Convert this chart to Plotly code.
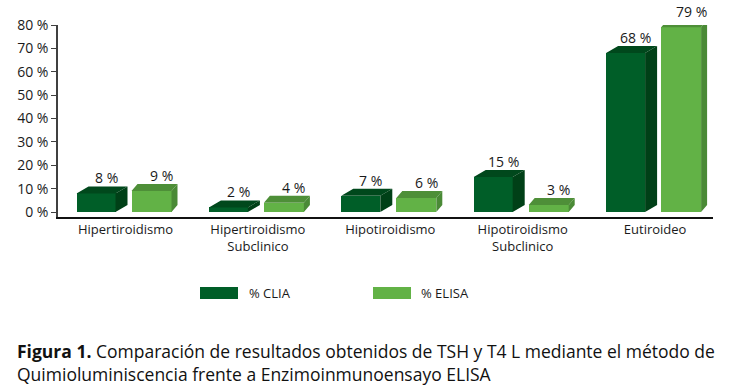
import plotly.graph_objects as go

# ---- data ----
categories = ["Hipertiroidismo", "Hipertiroidismo<br>Subclinico", "Hipotiroidismo",
              "Hipotiroidismo<br>Subclinico", "Eutiroideo"]
clia = [8, 2, 7, 15, 68]
elisa = [9, 4, 6, 3, 79]
y_ticks = [0, 10, 20, 30, 40, 50, 60, 70, 80]
y_ticktext = [f"{v} %" for v in y_ticks]
series_names = ["% CLIA", "% ELISA"]

# ---- style / geometry ----
W, H = 731, 390
L, R, T, B = 58, 18, 25, 173
plot_w = W - L - R
plot_h = H - T - B
cat_px = 132.4               # px per category
first_center_px = 125.5      # px of first category center
x0 = (L - first_center_px) / cat_px
x1 = x0 + plot_w / cat_px
y_min, y_max = -2.1, 80
px_per_unit = plot_h / (y_max - y_min)

def pxw(p):  # px -> x data units
    return p / cat_px

def pyh(p):  # px -> y data units
    return p / px_per_unit

def paper_x(px):
    return (px - L) / plot_w

def paper_y(py):
    return (H - B - py) / plot_h

def data_to_paper_y(v):
    return (v - y_min) / (y_max - y_min)

font_fam = "Open Sans"
txt_col = "#1a1a1a"
axis_col = "#404040"

styles = [
    dict(front="#005E28", top="#00481C", side="#004017", off=-29.5, width=39, depth=12),
    dict(front="#62B246", top="#4E8F38", side="#4A8A36", off=26, width=40, depth=6),
]
rise = pyh(7)

fig = go.Figure()

for s, vals, name in zip(styles, [clia, elisa], series_names):
    xs = [i + pxw(s["off"]) for i in range(len(vals))]
    w = pxw(s["width"])
    d = pxw(s["depth"])
    fig.add_trace(go.Bar(x=xs, y=vals, width=w, marker=dict(color=s["front"], line=dict(width=0)),
                         name=name, showlegend=False, hoverinfo="skip"))
    topx, topy, sidex, sidey = [], [], [], []
    for xc, v in zip(xs, vals):
        a, b = xc - w / 2, xc + w / 2
        topx += [a, a + d, b + d, b, a, None]
        topy += [v, v + rise, v + rise, v, v, None]
        sidex += [b, b + d, b + d, b, b, None]
        sidey += [0, rise, v + rise, v, 0, None]
    fig.add_trace(go.Scatter(x=topx, y=topy, fill="toself", fillcolor=s["top"], mode="lines",
                             line=dict(width=0, color=s["top"]), showlegend=False, hoverinfo="skip",
                             cliponaxis=False))
    fig.add_trace(go.Scatter(x=sidex, y=sidey, fill="toself", fillcolor=s["side"], mode="lines",
                             line=dict(width=0, color=s["side"]), showlegend=False, hoverinfo="skip",
                             cliponaxis=False))
    for xc, v in zip(xs, vals):
        fig.add_annotation(x=xc, xref="x", yref="paper", y=data_to_paper_y(v + rise), text=f"{v} %",
                           showarrow=False, xshift=10, yshift=-2, yanchor="bottom", borderpad=0,
                           font=dict(family=font_fam, size=14, color=txt_col))

# legend (manual)
leg = [(200, 238, 249, 0), (373, 411, 421, 1)]
for sx0, sx1, tx, k in leg:
    fig.add_shape(type="rect", xref="paper", yref="paper", x0=paper_x(sx0), x1=paper_x(sx1),
                  y0=paper_y(299), y1=paper_y(287), fillcolor=styles[k]["front"], line=dict(width=0))
    fig.add_annotation(xref="paper", yref="paper", x=paper_x(tx), y=paper_y(293), text=series_names[k],
                       showarrow=False, xanchor="left", yanchor="middle", xshift=-2,
                       font=dict(family=font_fam, size=13, color=txt_col))

# caption
fig.add_annotation(xref="paper", yref="paper", x=paper_x(15), y=paper_y(337), xanchor="left", yanchor="top",
                   align="left", showarrow=False,
                   text="<b>Figura 1.</b> Comparación de resultados obtenidos de TSH y T4 L mediante el método de<br>"
                        "Quimioluminiscencia frente a Enzimoinmunoensayo ELISA",
                   font=dict(family=font_fam, size=17.5, color="#111111"))

fig.update_layout(
    width=W, height=H, margin=dict(l=L, r=R, t=T, b=B),
    plot_bgcolor="white", paper_bgcolor="white", showlegend=False, bargap=0,
    font=dict(family=font_fam, size=13, color=txt_col),
    xaxis=dict(range=[x0, x1], tickvals=list(range(len(categories))), ticktext=categories,
               showline=True, linecolor="#111111", linewidth=1.5, ticks="", showgrid=False,
               zeroline=False, tickfont=dict(family=font_fam, size=13, color=txt_col), fixedrange=True),
    yaxis=dict(range=[y_min, y_max], tickvals=y_ticks, ticktext=y_ticktext, showline=True,
               linecolor=axis_col, linewidth=1.5, ticks="outside", ticklen=5, tickcolor=axis_col,
               showgrid=False, zeroline=False, tickfont=dict(family=font_fam, size=14, color=txt_col),
               fixedrange=True),
)

fig.write_html("out.html", config={"displayModeBar": False},
               post_script="document.body.style.margin='0';")
